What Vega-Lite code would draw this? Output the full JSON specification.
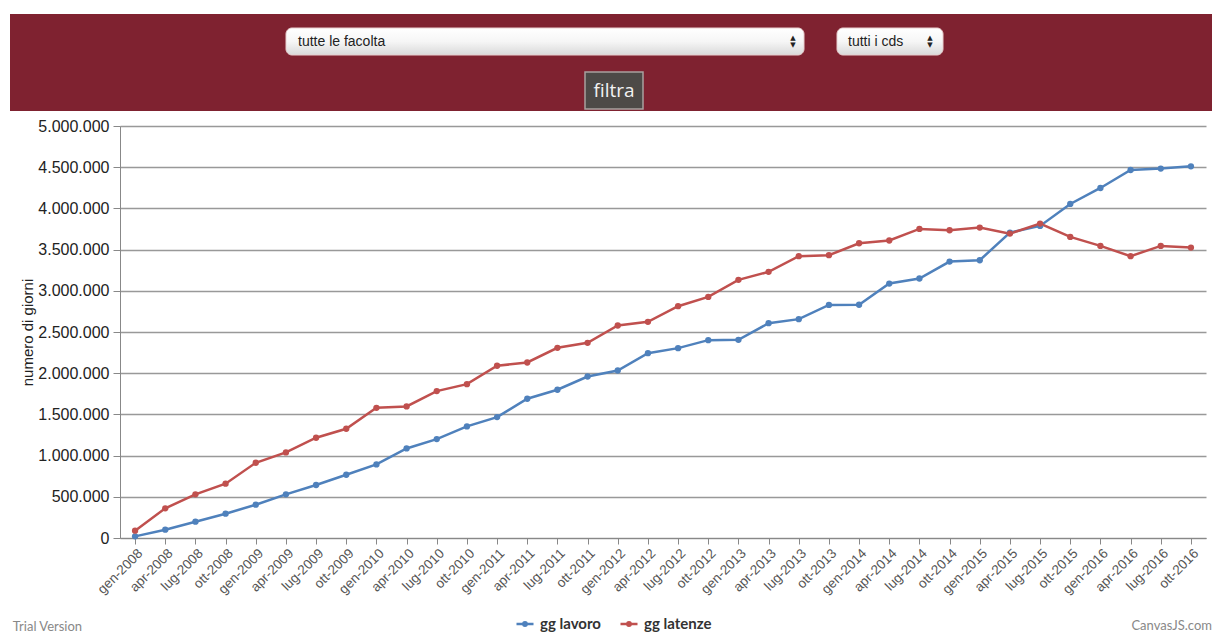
{
  "$schema": "https://vega.github.io/schema/vega-lite/v6.json",
  "padding": {"left": 10, "top": 14, "right": 0, "bottom": 0},
  "background": "white",
  "spacing": 7,
  "title": {"text": "CanvasJS.com", "orient": "bottom", "anchor": "end", "fontSize": 13, "fontWeight": "normal", "color": "#888888", "font": "Lato", "offset": -14, "dx": 0},
  "config": {
    "locale": {"number": {"decimal": ",", "thousands": ".", "grouping": [3], "currency": ["€", ""]}},
    "font": "Liberation Sans",
    "view": {"stroke": null}
  },
  "datasets": {
    "giorni": [
      {"periodo": "gen-2008", "gg lavoro": 20000, "gg latenze": 89000},
      {"periodo": "apr-2008", "gg lavoro": 101000, "gg latenze": 360000},
      {"periodo": "lug-2008", "gg lavoro": 198000, "gg latenze": 530000},
      {"periodo": "ott-2008", "gg lavoro": 295000, "gg latenze": 659000},
      {"periodo": "gen-2009", "gg lavoro": 404000, "gg latenze": 913000},
      {"periodo": "apr-2009", "gg lavoro": 530000, "gg latenze": 1039000},
      {"periodo": "lug-2009", "gg lavoro": 643000, "gg latenze": 1217000},
      {"periodo": "ott-2009", "gg lavoro": 768000, "gg latenze": 1326000},
      {"periodo": "gen-2010", "gg lavoro": 893000, "gg latenze": 1580000},
      {"periodo": "apr-2010", "gg lavoro": 1087000, "gg latenze": 1597000},
      {"periodo": "lug-2010", "gg lavoro": 1200000, "gg latenze": 1783000},
      {"periodo": "ott-2010", "gg lavoro": 1354000, "gg latenze": 1867000},
      {"periodo": "gen-2011", "gg lavoro": 1467000, "gg latenze": 2090000},
      {"periodo": "apr-2011", "gg lavoro": 1690000, "gg latenze": 2130000},
      {"periodo": "lug-2011", "gg lavoro": 1799000, "gg latenze": 2308000},
      {"periodo": "ott-2011", "gg lavoro": 1960000, "gg latenze": 2369000},
      {"periodo": "gen-2012", "gg lavoro": 2033000, "gg latenze": 2579000},
      {"periodo": "apr-2012", "gg lavoro": 2243000, "gg latenze": 2623000},
      {"periodo": "lug-2012", "gg lavoro": 2304000, "gg latenze": 2813000},
      {"periodo": "ott-2012", "gg lavoro": 2401000, "gg latenze": 2926000},
      {"periodo": "gen-2013", "gg lavoro": 2405000, "gg latenze": 3133000},
      {"periodo": "apr-2013", "gg lavoro": 2607000, "gg latenze": 3230000},
      {"periodo": "lug-2013", "gg lavoro": 2656000, "gg latenze": 3420000},
      {"periodo": "ott-2013", "gg lavoro": 2829000, "gg latenze": 3432000},
      {"periodo": "gen-2014", "gg lavoro": 2831000, "gg latenze": 3577000},
      {"periodo": "apr-2014", "gg lavoro": 3088000, "gg latenze": 3610000},
      {"periodo": "lug-2014", "gg lavoro": 3149000, "gg latenze": 3751000},
      {"periodo": "ott-2014", "gg lavoro": 3355000, "gg latenze": 3735000},
      {"periodo": "gen-2015", "gg lavoro": 3371000, "gg latenze": 3767000},
      {"periodo": "apr-2015", "gg lavoro": 3706000, "gg latenze": 3694000},
      {"periodo": "lug-2015", "gg lavoro": 3787000, "gg latenze": 3816000},
      {"periodo": "ott-2015", "gg lavoro": 4054000, "gg latenze": 3654000},
      {"periodo": "gen-2016", "gg lavoro": 4248000, "gg latenze": 3545000},
      {"periodo": "apr-2016", "gg lavoro": 4466000, "gg latenze": 3420000},
      {"periodo": "lug-2016", "gg lavoro": 4483000, "gg latenze": 3545000},
      {"periodo": "ott-2016", "gg lavoro": 4511000, "gg latenze": 3525000}
    ],
    "controlli": [
      {"controllo": "fascia", "testo": ""},
      {"controllo": "facolta", "testo": "tutte le facolta"},
      {"controllo": "cds", "testo": "tutti i cds"},
      {"controllo": "filtra", "testo": "filtra"}
    ]
  },
  "vconcat": [
    {
      "width": 1092,
      "height": 97,
      "view": {"stroke": null},
      "data": {"name": "controlli"},
      "layer": [
        {
          "transform": [{"filter": "datum.controllo == 'fascia'"}],
          "mark": {"type": "rect", "fill": "#7f2230", "clip": false},
          "encoding": {
            "x": {"datum": -110, "type": "quantitative", "scale": {"domain": [0, 1092], "nice": false, "zero": false}, "axis": null},
            "x2": {"datum": 1092},
            "y": {"datum": 0, "type": "quantitative", "scale": {"domain": [0, 97], "nice": false, "zero": false, "reverse": true}, "axis": null},
            "y2": {"datum": 97}
          }
        },
        {
          "transform": [{"filter": "datum.controllo == 'facolta'"}],
          "mark": {"type": "rect", "cornerRadius": 6, "stroke": "#e9cfcf", "strokeWidth": 1,
            "fill": {"gradient": "linear", "x1": 0, "y1": 0, "x2": 0, "y2": 1, "stops": [{"offset": 0, "color": "#ffffff"}, {"offset": 0.5, "color": "#f6f6f6"}, {"offset": 1, "color": "#d9d9d9"}]}},
          "encoding": {
            "x": {"datum": 166, "type": "quantitative", "scale": {"domain": [0, 1092], "nice": false, "zero": false}, "axis": null},
            "x2": {"datum": 684},
            "y": {"datum": 14, "type": "quantitative", "scale": {"domain": [0, 97], "nice": false, "zero": false, "reverse": true}, "axis": null},
            "y2": {"datum": 41}
          }
        },
        {
          "transform": [{"filter": "datum.controllo == 'cds'"}],
          "mark": {"type": "rect", "cornerRadius": 6, "stroke": "#e9cfcf", "strokeWidth": 1,
            "fill": {"gradient": "linear", "x1": 0, "y1": 0, "x2": 0, "y2": 1, "stops": [{"offset": 0, "color": "#ffffff"}, {"offset": 0.5, "color": "#f6f6f6"}, {"offset": 1, "color": "#d9d9d9"}]}},
          "encoding": {
            "x": {"datum": 717, "type": "quantitative", "scale": {"domain": [0, 1092], "nice": false, "zero": false}, "axis": null},
            "x2": {"datum": 823},
            "y": {"datum": 14, "type": "quantitative", "scale": {"domain": [0, 97], "nice": false, "zero": false, "reverse": true}, "axis": null},
            "y2": {"datum": 41}
          }
        },
        {
          "transform": [{"filter": "datum.controllo == 'filtra'"}],
          "mark": {"type": "rect", "fill": "#4d4a47", "stroke": "#a8a19f", "strokeWidth": 1.5},
          "encoding": {
            "x": {"datum": 465, "type": "quantitative", "scale": {"domain": [0, 1092], "nice": false, "zero": false}, "axis": null},
            "x2": {"datum": 523},
            "y": {"datum": 58, "type": "quantitative", "scale": {"domain": [0, 97], "nice": false, "zero": false, "reverse": true}, "axis": null},
            "y2": {"datum": 95}
          }
        },
        {
          "transform": [{"filter": "datum.controllo == 'facolta'"}],
          "mark": {"type": "text", "align": "left", "baseline": "middle", "fontSize": 14, "color": "#222222", "font": "Liberation Sans"},
          "encoding": {
            "x": {"datum": 178, "type": "quantitative", "scale": {"domain": [0, 1092], "nice": false, "zero": false}, "axis": null},
            "y": {"datum": 27.5, "type": "quantitative", "scale": {"domain": [0, 97], "nice": false, "zero": false, "reverse": true}, "axis": null},
            "text": {"field": "testo"}
          }
        },
        {
          "transform": [{"filter": "datum.controllo == 'cds'"}],
          "mark": {"type": "text", "align": "left", "baseline": "middle", "fontSize": 14, "color": "#222222", "font": "Liberation Sans"},
          "encoding": {
            "x": {"datum": 728, "type": "quantitative", "scale": {"domain": [0, 1092], "nice": false, "zero": false}, "axis": null},
            "y": {"datum": 27.5, "type": "quantitative", "scale": {"domain": [0, 97], "nice": false, "zero": false, "reverse": true}, "axis": null},
            "text": {"field": "testo"}
          }
        },
        {
          "transform": [{"filter": "datum.controllo == 'filtra'"}],
          "mark": {"type": "text", "align": "center", "baseline": "middle", "fontSize": 19, "color": "#f2f2f2", "font": "Open Sans"},
          "encoding": {
            "x": {"datum": 494, "type": "quantitative", "scale": {"domain": [0, 1092], "nice": false, "zero": false}, "axis": null},
            "y": {"datum": 76.5, "type": "quantitative", "scale": {"domain": [0, 97], "nice": false, "zero": false, "reverse": true}, "axis": null},
            "text": {"field": "testo"}
          }
        },
        {
          "transform": [{"filter": "datum.controllo == 'facolta'"}],
          "mark": {"type": "text", "align": "center", "baseline": "middle", "fontSize": 7, "color": "#222222", "font": "DejaVu Sans", "text": "▲"},
          "encoding": {
            "x": {"datum": 673, "type": "quantitative", "scale": {"domain": [0, 1092], "nice": false, "zero": false}, "axis": null},
            "y": {"datum": 24, "type": "quantitative", "scale": {"domain": [0, 97], "nice": false, "zero": false, "reverse": true}, "axis": null}
          }
        },
        {
          "transform": [{"filter": "datum.controllo == 'facolta'"}],
          "mark": {"type": "text", "align": "center", "baseline": "middle", "fontSize": 7, "color": "#222222", "font": "DejaVu Sans", "text": "▼"},
          "encoding": {
            "x": {"datum": 673, "type": "quantitative", "scale": {"domain": [0, 1092], "nice": false, "zero": false}, "axis": null},
            "y": {"datum": 31, "type": "quantitative", "scale": {"domain": [0, 97], "nice": false, "zero": false, "reverse": true}, "axis": null}
          }
        },
        {
          "transform": [{"filter": "datum.controllo == 'cds'"}],
          "mark": {"type": "text", "align": "center", "baseline": "middle", "fontSize": 7, "color": "#222222", "font": "DejaVu Sans", "text": "▲"},
          "encoding": {
            "x": {"datum": 810, "type": "quantitative", "scale": {"domain": [0, 1092], "nice": false, "zero": false}, "axis": null},
            "y": {"datum": 24, "type": "quantitative", "scale": {"domain": [0, 97], "nice": false, "zero": false, "reverse": true}, "axis": null}
          }
        },
        {
          "transform": [{"filter": "datum.controllo == 'cds'"}],
          "mark": {"type": "text", "align": "center", "baseline": "middle", "fontSize": 7, "color": "#222222", "font": "DejaVu Sans", "text": "▼"},
          "encoding": {
            "x": {"datum": 810, "type": "quantitative", "scale": {"domain": [0, 1092], "nice": false, "zero": false}, "axis": null},
            "y": {"datum": 31, "type": "quantitative", "scale": {"domain": [0, 97], "nice": false, "zero": false, "reverse": true}, "axis": null}
          }
        }
      ]
    },
    {
      "width": 1086,
      "height": 412,
      "data": {"name": "giorni"},
      "transform": [{"fold": ["gg lavoro", "gg latenze"], "as": ["serie", "valore"]}],
      "title": {"text": "Trial Version", "orient": "bottom", "anchor": "start", "frame": "bounds", "fontSize": 13, "fontWeight": "normal", "color": "#888888", "font": "Lato", "offset": 25, "dx": -8},
      "mark": {"type": "line", "strokeWidth": 2.5, "point": {"filled": true, "size": 40}},
      "encoding": {
        "x": {
          "field": "periodo", "type": "ordinal", "sort": null,
          "scale": {"type": "point", "padding": 0.5},
          "axis": {"title": null, "labelAngle": -45, "labelFontSize": 13.5, "labelColor": "#555555", "tickColor": "#888888", "domainColor": "#888888", "tickSize": 6, "grid": false, "labelPadding": 2}
        },
        "y": {
          "field": "valore", "type": "quantitative",
          "scale": {"domain": [0, 5000000], "nice": false},
          "axis": {
            "title": "numero di giorni",
            "values": [0, 500000, 1000000, 1500000, 2000000, 2500000, 3000000, 3500000, 4000000, 4500000, 5000000],
            "format": ",d",
            "labelFontSize": 16, "labelColor": "#222222",
            "titleFontSize": 15, "titleFontWeight": "normal", "titleColor": "#222222", "titlePadding": 2,
            "gridColor": "#999999", "gridWidth": 1.5,
            "tickColor": "#888888", "tickSize": 7, "domainColor": "#888888", "labelPadding": 4
          }
        },
        "color": {
          "field": "serie", "type": "nominal",
          "scale": {"domain": ["gg lavoro", "gg latenze"], "range": ["#4F81BC", "#C0504E"]},
          "legend": {
            "title": null, "orient": "none", "direction": "horizontal", "legendX": 395, "legendY": 600,
            "symbolType": "M-1,0L1,0M0.2,0A0.2,0.2,0,1,1,-0.2,0A0.2,0.2,0,1,1,0.2,0",
            "symbolSize": 289, "symbolStrokeWidth": 2.5,
            "labelFont": "Lato", "labelFontWeight": "bold", "labelFontSize": 15, "labelColor": "#333333",
            "labelOffset": 5, "columnPadding": 14
          }
        }
      }
    }
  ]
}
